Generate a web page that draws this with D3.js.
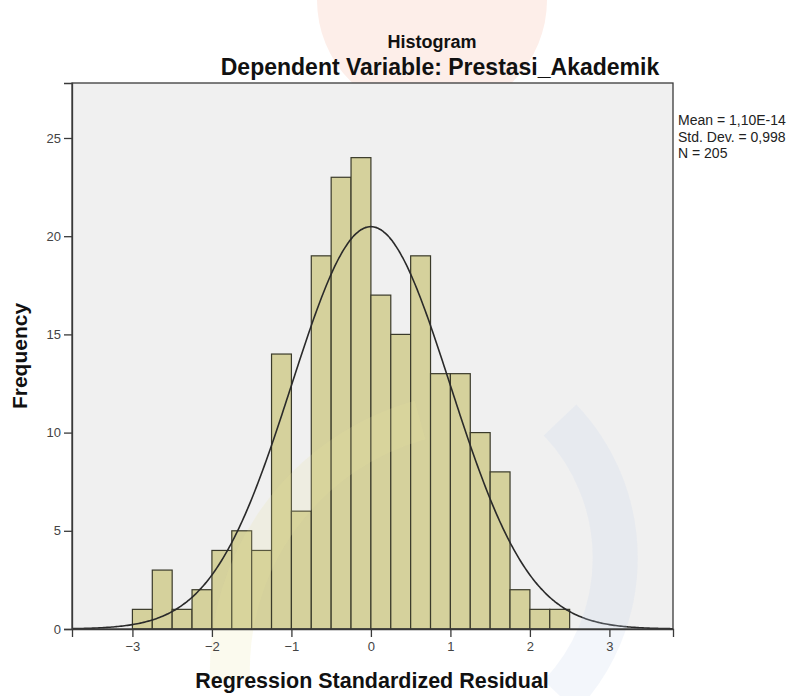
<!DOCTYPE html>
<html><head><meta charset="utf-8">
<script src="https://cdn.jsdelivr.net/npm/d3@7"></script>
<style>body{margin:0;background:#fff}text{font-family:"Liberation Sans",Arial,sans-serif}</style>
</head><body><svg id="c" width="803" height="696"></svg>
<script>
const binStarts = [-3,-2.75,-2.5,-2.25,-2,-1.75,-1.5,-1.25,-1,-0.75,-0.5,-0.25,0,0.25,0.5,0.75,1,1.25,1.5,1.75,2,2.25];
const binWidth = 0.25;
const frequencies = [1,3,1,2,4,5,4,14,6,19,23,24,17,15,19,13,13,10,8,2,1,1];
const xTicks = [-3,-2,-1,0,1,2,3];
const yTicks = [0,5,10,15,20,25];
const mean = 1.10e-14, sd = 0.998, N = 205;
const legendLines = ["Mean = 1,10E-14","Std. Dev. = 0,998","N = 205"];

const svg = d3.select("#c");
const L=72,R=673,T=83,B=629;
const x = d3.scaleLinear().domain([-3.76,3.8]).range([L,R]);
const y = d3.scaleLinear().domain([0,27.8]).range([B,T]);

// faint background watermark shapes
const bg = svg.append("g");
bg.append("circle").attr("cx",432).attr("cy",0).attr("r",115).attr("fill","#fdeee9");

svg.append("rect").attr("x",L).attr("y",T).attr("width",R-L).attr("height",B-T).attr("fill","#f0f0f0");

const g = svg.append("g");
g.selectAll("rect.bar").data(frequencies).join("rect").attr("class","bar")
 .attr("x",(d,i)=>x(binStarts[i])).attr("width",(d,i)=>x(binStarts[i]+binWidth)-x(binStarts[i]))
 .attr("y",d=>y(d)).attr("height",d=>B-y(d))
 .attr("fill","#d5d19c").attr("stroke","#3a3a2a").attr("stroke-width",1.2);

const pts = d3.range(-3.76,3.801,0.02).map(v=>[v, N*binWidth/(sd*Math.sqrt(2*Math.PI))*Math.exp(-0.5*((v-mean)/sd)**2)]);
g.append("path").datum(pts).attr("d",d3.line().x(d=>x(d[0])).y(d=>y(d[1])).curve(d3.curveBasis))
 .attr("fill","none").attr("stroke","#2a2a2a").attr("stroke-width",1.6);

// faint overlay arcs
const wm = svg.append("g").attr("pointer-events","none");
wm.append("path").attr("d","M 230 680 A 260 260 0 0 1 420 420").attr("fill","none").attr("stroke","#e8e4a0").attr("stroke-width",40).attr("opacity",0.18);
wm.append("path").attr("d","M 560 696 A 200 200 0 0 0 560 420").attr("fill","none").attr("stroke","#c9d6ec").attr("stroke-width",45).attr("opacity",0.22);

// frame
svg.append("rect").attr("x",L).attr("y",T).attr("width",R-L).attr("height",B-T).attr("fill","none").attr("stroke","#3a3a3a").attr("stroke-width",1.3);

const xa = svg.append("g").attr("transform",`translate(0,${B})`).call(d3.axisBottom(x).tickValues(xTicks).tickSize(8).tickPadding(5).tickFormat(d3.format("d")));
const ya = svg.append("g").attr("transform",`translate(${L},0)`).call(d3.axisLeft(y).tickValues(yTicks).tickSize(8).tickPadding(3).tickFormat(d3.format("d")));
[xa,ya].forEach(a=>{a.select(".domain").attr("stroke","#3a3a3a").attr("stroke-width",1.3);
 a.selectAll(".tick line").attr("stroke","#3a3a3a").attr("stroke-width",1.3);
 a.selectAll(".tick text").attr("font-size",13).attr("fill","#444").attr("font-family","Liberation Sans, Arial, sans-serif");});

svg.append("text").attr("x",432).attr("y",48).attr("text-anchor","middle").attr("font-size",18).attr("font-weight","bold").attr("fill","#111").text("Histogram");
svg.append("text").attr("x",440).attr("y",75).attr("text-anchor","middle").attr("font-size",23).attr("font-weight","bold").attr("fill","#111").text("Dependent Variable: Prestasi_Akademik");
svg.append("text").attr("x",372).attr("y",688).attr("text-anchor","middle").attr("font-size",21.5).attr("font-weight","bold").attr("fill","#111").text("Regression Standardized Residual");
svg.append("text").attr("transform","translate(27,356) rotate(-90)").attr("text-anchor","middle").attr("font-size",21).attr("font-weight","bold").attr("fill","#111").text("Frequency");

svg.append("g").selectAll("text").data(legendLines).join("text")
 .attr("x",678).attr("y",(d,i)=>125+i*16.5).attr("font-size",14).attr("fill","#222").text(d=>d);
</script></body></html>
